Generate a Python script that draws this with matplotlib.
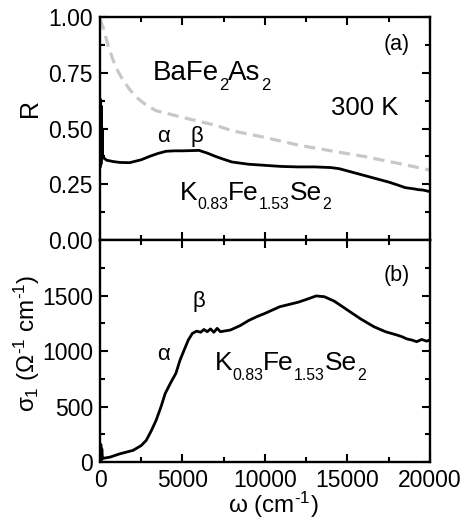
import numpy as np
import matplotlib.pyplot as plt
from matplotlib.transforms import ScaledTranslation

plt.rcParams['font.family'] = ['Liberation Sans', 'DejaVu Sans']
plt.rcParams['mathtext.fontset'] = 'custom'
plt.rcParams['mathtext.rm'] = 'Liberation Sans'
plt.rcParams['mathtext.it'] = 'Liberation Sans'

# panel (a) reflectivity, K0.83Fe1.53Se2
r_k_w = [20, 40, 60, 80, 100, 130, 160, 200, 400, 800, 1200, 1800, 2500, 3000,
         3500, 4000, 4500, 5000, 5500, 6000, 6500, 7000, 7500, 8000, 9000, 10000,
         11000, 12000, 13000, 14000, 14500, 15000, 15500, 16000, 16500, 17000,
         17500, 18000, 18500, 19000, 19300, 19600, 20000]
r_k = [0.33, 0.63, 0.34, 0.60, 0.36, 0.50, 0.38, 0.37, 0.358, 0.352, 0.348, 0.347,
       0.36, 0.375, 0.388, 0.398, 0.40, 0.40, 0.401, 0.402, 0.39, 0.375, 0.362,
       0.35, 0.34, 0.335, 0.33, 0.328, 0.328, 0.325, 0.32, 0.31, 0.30, 0.29,
       0.28, 0.27, 0.26, 0.248, 0.235, 0.23, 0.226, 0.224, 0.217]

# panel (a) reflectivity, BaFe2As2
r_ba_w = [0, 200, 500, 800, 1100, 1400, 1800, 2200, 2800, 3400, 4200, 5000, 6000,
          7000, 8000, 10000, 12000, 14000, 16000, 18000, 20000]
r_ba = [0.99, 0.95, 0.87, 0.805, 0.755, 0.716, 0.675, 0.64, 0.605, 0.58, 0.565,
        0.55, 0.532, 0.515, 0.49, 0.46, 0.426, 0.40, 0.375, 0.345, 0.314]

# panel (b) optical conductivity, K0.83Fe1.53Se2
s_w = [20, 50, 80, 110, 150, 200, 600, 1200, 2000, 2500, 2800, 3100, 3400, 3700,
       3950, 4300, 4600, 4850, 5100, 5350, 5600, 5860, 6100, 6300, 6500, 6700,
       6900, 7100, 7300, 7500, 7900, 8500, 9000, 9500, 10000, 10900, 12000,
       12500, 13100, 13600, 14200, 15000, 15800, 16600, 17300, 18000, 18300,
       18600, 18900, 19200, 19500, 19800, 20000]
s_1 = [10, 160, 20, 120, 30, 35, 45, 75, 106, 150, 196, 280, 377, 500, 618, 720,
       800, 919, 1010, 1100, 1160, 1180, 1170, 1195, 1175, 1200, 1170, 1205, 1175,
       1180, 1190, 1230, 1275, 1310, 1340, 1400, 1440, 1465, 1497, 1490, 1450,
       1370, 1290, 1220, 1175, 1145, 1130, 1110, 1100, 1085, 1105, 1090, 1100]


def chem(ax, x, y, pieces, size, sub=0.6, drop=0.36):
    # formula with subscripts, pieces laid out one after another
    fig = ax.figure
    renderer = fig.canvas.get_renderer()
    dx = 0.0
    for s, is_sub in pieces:
        fs = size * sub if is_sub else size
        dy = -size * drop if is_sub else 0.0
        tr = ax.transAxes + ScaledTranslation(dx / 72, dy / 72, fig.dpi_scale_trans)
        t = ax.text(x, y, s, fontsize=fs, transform=tr)
        dx += t.get_window_extent(renderer).width * 72 / fig.dpi


fig = plt.figure(figsize=(4.68, 5.30), dpi=100)
ax1 = fig.add_axes([0.2137, 0.547, 0.705, 0.421])
ax2 = fig.add_axes([0.2137, 0.128, 0.705, 0.419], sharex=ax1)

ax1.plot(r_ba_w, r_ba, color='#c8c8c8', lw=2.3, dashes=(3.5, 2))
ax1.plot(r_k_w, r_k, color='black', lw=2.0)
ax2.plot(s_w, s_1, color='black', lw=2.0)

ax1.set_xlim(0, 20000)
ax1.set_ylim(0, 1.0)
ax2.set_ylim(0, 2000)
ax1.set_yticks([0, 0.25, 0.5, 0.75, 1.0])
ax1.set_yticklabels(['0.00', '0.25', '0.50', '0.75', '1.00'])
ax1.set_yticks(np.arange(0.125, 1.0, 0.25), minor=True)
ax2.set_yticks([0, 500, 1000, 1500])
ax2.set_yticks([250, 750, 1250, 1750], minor=True)
ax2.set_xticks([0, 5000, 10000, 15000, 20000])
ax2.set_xticks([2500, 7500, 12500, 17500], minor=True)

for ax in (ax1, ax2):
    for s in ax.spines.values():
        s.set_linewidth(1.7)
    ax.tick_params(which='both', direction='in', top=True, right=True, width=1.5,
                   labelsize=16.5, pad=5)
    ax.tick_params(which='major', length=6)
    ax.tick_params(which='minor', length=3.5)
ax1.tick_params(labelbottom=False)

ax1.set_ylabel('R', fontsize=18)
ax1.yaxis.set_label_coords(-0.176, 0.59)
ax2.set_ylabel(r'$\sigma_1\ (\Omega^{\text{-1}}\ \mathrm{cm}^{\text{-1}})$', fontsize=17.5)
ax2.yaxis.set_label_coords(-0.175, 0.536)
ax2.set_xlabel(r'$\omega$ (cm$^{\text{-1}}$)', fontsize=17.5, labelpad=4)
ax2.xaxis.set_label_coords(0.525, -0.125)

chem(ax1, 0.16, 0.717, [('BaFe', False), ('2', True), ('As', False), ('2', True)], 20)
ax1.text(0.70, 0.56, '300 K', transform=ax1.transAxes, fontsize=18.5)
ax1.text(0.94, 0.85, '(a)', transform=ax1.transAxes, fontsize=15.5, ha='right')
ax1.text(0.173, 0.44, r'$\alpha$', transform=ax1.transAxes, fontsize=16)
ax1.text(0.273, 0.44, r'$\beta$', transform=ax1.transAxes, fontsize=16)
chem(ax1, 0.242, 0.18, [('K', False), ('0.83', True), ('Fe', False), ('1.53', True),
                        ('Se', False), ('2', True)], 19)

ax2.text(0.94, 0.815, '(b)', transform=ax2.transAxes, fontsize=15.5, ha='right')
ax2.text(0.28, 0.70, r'$\beta$', transform=ax2.transAxes, fontsize=16)
ax2.text(0.173, 0.46, r'$\alpha$', transform=ax2.transAxes, fontsize=16)
chem(ax2, 0.348, 0.414, [('K', False), ('0.83', True), ('Fe', False), ('1.53', True),
                         ('Se', False), ('2', True)], 19)

fig.savefig('out.png', dpi=100)
